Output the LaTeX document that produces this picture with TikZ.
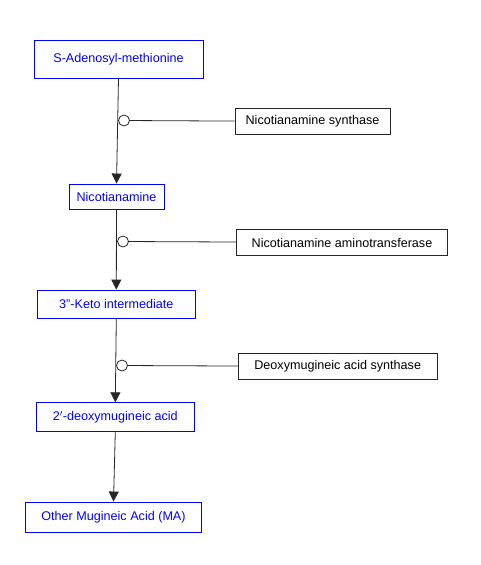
\documentclass[tikz,border=0pt]{standalone}
\usepackage{fontspec}
\setmainfont{Liberation Sans}
\usetikzlibrary{arrows.meta,positioning}

\begin{document}
\begin{tikzpicture}[x=1pt,y=-1pt,metab/.style={rectangle,draw=blue,text=blue,line width=0.9pt,inner sep=0pt},enzyme/.style={rectangle,draw=black!85,text=black,line width=0.9pt,inner sep=0pt},link/.style={circle,draw=black!85,fill=white,line width=0.8pt,minimum size=11pt,inner sep=0pt},every node/.style={font=\fontsize{12.6}{15}\selectfont}]
\useasboundingbox (0,0) rectangle (480,565);
\node[metab,minimum width=169pt,minimum height=38pt] (m1) at (118.5,59) {S-Adenosyl-methionine};
\node[metab,minimum width=95pt,minimum height=25pt] (m2) at (116.5,196.5) {Nicotianamine};
\node[metab,minimum width=158pt,minimum height=28.5pt] (m3) at (116.3,304.3) {3"-Keto intermediate};
\node[metab,minimum width=158pt,minimum height=28.5pt] (m4) at (115.3,417) {2$'$-deoxymugineic acid};
\node[metab,minimum width=176pt,minimum height=30pt] (m5) at (113.5,517) {Other Mugineic Acid (MA)};
\node[enzyme,minimum width=155pt,minimum height=25.5pt] (e1) at (312.5,121.5) {Nicotianamine synthase};
\node[enzyme,minimum width=211.5pt,minimum height=26.5pt] (e2) at (342,242.5) {Nicotianamine aminotransferase};
\node[enzyme,minimum width=198.5pt,minimum height=25.5pt] (e3) at (337.7,366.5) {Deoxymugineic acid synthase};
% pathway arrows
\draw[black!85,line width=0.8pt,-{Triangle[length=10pt,width=10pt]}] (m1.south) -- (m2.north);
\draw[black!85,line width=0.8pt,-{Triangle[length=10pt,width=10pt]}] (m2.south) -- (m3.north);
\draw[black!85,line width=0.8pt,-{Triangle[length=10pt,width=10pt]}] (m3.south) -- (m4.north);
\draw[black!85,line width=0.8pt,-{Triangle[length=10pt,width=10pt]}] (m4.south) -- (m5.north);
% enzyme links
\node[link] (c1) at (124,120.5) {};
\node[link] (c2) at (123,241.5) {};
\node[link] (c3) at (122,365.5) {};
\draw[black!85,line width=0.8pt] (c1) -- (e1);
\draw[black!85,line width=0.8pt] (c2) -- (e2);
\draw[black!85,line width=0.8pt] (c3) -- (e3);
\end{tikzpicture}
\end{document}
